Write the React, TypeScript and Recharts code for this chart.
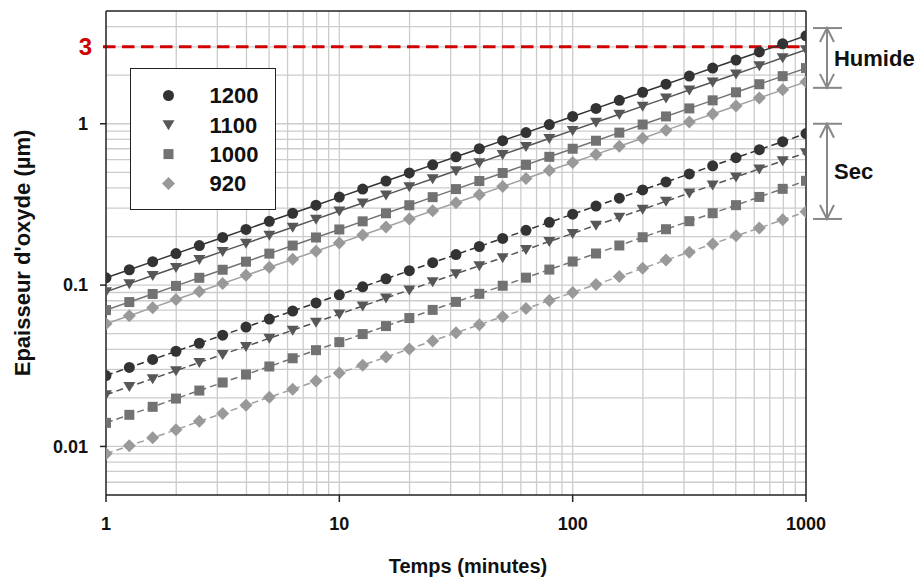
import React from 'react';
import { LineChart, Line, XAxis, YAxis, ReferenceLine, Legend } from 'recharts';

// oxidation time, minutes (markers every 0.1 decade)
const TIMES = [
  1, 1.259, 1.585, 1.995, 2.512, 3.162, 3.981, 5.012, 6.31, 7.943,
  10, 12.59, 15.85, 19.95, 25.12, 31.62, 39.81, 50.12, 63.1, 79.43,
  100, 125.9, 158.5, 199.5, 251.2, 316.2, 398.1, 501.2, 631, 794.3, 1000,
];

// wet oxidation (Humide), µm
const WET_1200 = [
  0.111, 0.1245, 0.1398, 0.1568, 0.1759, 0.1974, 0.2214, 0.2485, 0.2788, 0.3128,
  0.351, 0.3938, 0.4419, 0.4958, 0.5563, 0.6242, 0.7004, 0.7858, 0.8817, 0.9893,
  1.11, 1.245, 1.398, 1.568, 1.759, 1.974, 2.214, 2.485, 2.788, 3.128, 3.51,
];
const WET_1100 = [
  0.091, 0.1021, 0.1146, 0.1286, 0.1442, 0.1618, 0.1815, 0.2037, 0.2286, 0.2564,
  0.2877, 0.3229, 0.3623, 0.4065, 0.4561, 0.5117, 0.5742, 0.6442, 0.7228, 0.8111,
  0.91, 1.021, 1.146, 1.286, 1.442, 1.618, 1.815, 2.037, 2.286, 2.564, 2.877,
];
const WET_1000 = [
  0.07, 0.0785, 0.0881, 0.0989, 0.111, 0.1245, 0.1397, 0.1567, 0.1758, 0.1973,
  0.2213, 0.2484, 0.2787, 0.3127, 0.3508, 0.3936, 0.4417, 0.4955, 0.556, 0.6239,
  0.7, 0.785, 0.881, 0.989, 1.11, 1.245, 1.397, 1.567, 1.758, 1.973, 2.213,
];
const WET_920 = [
  0.0576, 0.0646, 0.0725, 0.0814, 0.0913, 0.1024, 0.1149, 0.129, 0.1447, 0.1623,
  0.1821, 0.2044, 0.2293, 0.2573, 0.2887, 0.3239, 0.3635, 0.4078, 0.4575, 0.5134,
  0.576, 0.646, 0.725, 0.814, 0.913, 1.024, 1.149, 1.29, 1.447, 1.623, 1.821,
];

// dry oxidation (Sec), µm
const DRY_1200 = [
  0.0275, 0.0309, 0.0346, 0.0389, 0.0436, 0.0489, 0.0549, 0.0616, 0.0691, 0.0775,
  0.087, 0.0976, 0.1095, 0.1228, 0.1378, 0.1546, 0.1735, 0.1947, 0.2184, 0.2451,
  0.275, 0.309, 0.346, 0.389, 0.436, 0.489, 0.549, 0.616, 0.691, 0.775, 0.87,
];
const DRY_1100 = [
  0.0209, 0.0235, 0.0263, 0.0295, 0.0331, 0.0372, 0.0417, 0.0468, 0.0525, 0.0589,
  0.0661, 0.0742, 0.0832, 0.0934, 0.1048, 0.1175, 0.1319, 0.148, 0.166, 0.1863,
  0.209, 0.235, 0.263, 0.295, 0.331, 0.372, 0.417, 0.468, 0.525, 0.589, 0.661,
];
const DRY_1000 = [
  0.014, 0.0157, 0.0176, 0.0198, 0.0222, 0.0249, 0.0279, 0.0313, 0.0352, 0.0395,
  0.0443, 0.0497, 0.0557, 0.0625, 0.0702, 0.0787, 0.0883, 0.0991, 0.1112, 0.1248,
  0.14, 0.157, 0.176, 0.198, 0.222, 0.249, 0.279, 0.313, 0.352, 0.395, 0.443,
];
const DRY_920 = [
  0.009, 0.0101, 0.0113, 0.0127, 0.0143, 0.016, 0.018, 0.0202, 0.0226, 0.0254,
  0.0285, 0.0319, 0.0358, 0.0402, 0.0451, 0.0506, 0.0568, 0.0637, 0.0715, 0.0802,
  0.09, 0.101, 0.113, 0.127, 0.143, 0.16, 0.18, 0.202, 0.226, 0.254, 0.285,
];

const TEMPERATURES = ['1200', '1100', '1000', '920'];
const X_TICKS = [1, 10, 100, 1000];
const Y_TICKS = [0.01, 0.1, 1, 3];
const GRID_X = [
  2, 3, 4, 5, 6, 7, 8, 9, 10, 20, 30, 40, 50, 60, 70, 80, 90,
  100, 200, 300, 400, 500, 600, 700, 800, 900,
];
const GRID_Y = [
  0.006, 0.007, 0.008, 0.009, 0.01, 0.02, 0.03, 0.04, 0.05, 0.06, 0.07, 0.08, 0.09,
  0.1, 0.2, 0.3, 0.4, 0.5, 0.6, 0.7, 0.8, 0.9, 1, 2, 3, 4,
];
const LIMIT = 3;
const HUMIDE_RANGE = [3.92, 1.67];
const SEC_RANGE = [1.0, 0.257];
const BRACKET_T = 1230;

const data = TIMES.map((t, i) => ({
  t,
  w1200: WET_1200[i],
  w1100: WET_1100[i],
  w1000: WET_1000[i],
  w920: WET_920[i],
  d1200: DRY_1200[i],
  d1100: DRY_1100[i],
  d1000: DRY_1000[i],
  d920: DRY_920[i],
}));

const FONT = '"Liberation Sans", Arial, sans-serif';

const STYLES: Record<string, { shape: string; fill: string; stroke: string }> = {
  '1200': { shape: 'circle', fill: '#333333', stroke: '#333333' },
  '1100': { shape: 'triangle', fill: '#575757', stroke: '#555555' },
  '1000': { shape: 'square', fill: '#727272', stroke: '#747474' },
  '920': { shape: 'diamond', fill: '#999999', stroke: '#a0a0a0' },
};

const SERIES = [
  { key: 'd920', temp: '920', dashed: true },
  { key: 'd1000', temp: '1000', dashed: true },
  { key: 'd1100', temp: '1100', dashed: true },
  { key: 'd1200', temp: '1200', dashed: true },
  { key: 'w920', temp: '920', dashed: false },
  { key: 'w1000', temp: '1000', dashed: false },
  { key: 'w1100', temp: '1100', dashed: false },
  { key: 'w1200', temp: '1200', dashed: false },
];

function Marker({ shape, cx, cy, fill }: { shape: string; cx: number; cy: number; fill: string }) {
  if (cx == null || cy == null) return null;
  switch (shape) {
    case 'circle':
      return <circle cx={cx} cy={cy} r={5.5} fill={fill} />;
    case 'triangle':
      return <polygon points={`${cx - 6},${cy - 4.5} ${cx + 6},${cy - 4.5} ${cx},${cy + 5.5}`} fill={fill} />;
    case 'square':
      return <rect x={cx - 5} y={cy - 5} width={10} height={10} fill={fill} />;
    default:
      return <polygon points={`${cx},${cy - 6.5} ${cx + 6.5},${cy} ${cx},${cy + 6.5} ${cx - 6.5},${cy}`} fill={fill} />;
  }
}

function YTick(props: any) {
  const { x, y, payload } = props;
  if (payload.value === LIMIT) {
    return (
      <text x={x + 4} y={y} dy="0.355em" textAnchor="end" fill="#d00000"
        fontSize={24} fontWeight="bold" fontFamily={FONT}>
        {payload.value}
      </text>
    );
  }
  return (
    <g>
      <line x1={x + 12} x2={x + 18} y1={y} y2={y} stroke="#222" strokeWidth={1.5} />
      <text x={x} y={y} dy="0.355em" textAnchor="end" fill="#111"
        fontSize={18} fontWeight="bold" fontFamily={FONT}>
        {payload.value}
      </text>
    </g>
  );
}

function Bracket(props: any, label: string) {
  const { x1, y1, y2 } = props;
  const g = '#888';
  return (
    <g>
      <line x1={x1 - 14} x2={x1 + 15} y1={y1} y2={y1} stroke={g} strokeWidth={2} />
      <line x1={x1 - 14} x2={x1 + 15} y1={y2} y2={y2} stroke={g} strokeWidth={2} />
      <line x1={x1} x2={x1} y1={y1} y2={y2} stroke={g} strokeWidth={2} />
      <polyline points={`${x1 - 7},${y1 + 14} ${x1},${y1} ${x1 + 7},${y1 + 14}`} fill="none" stroke={g} strokeWidth={2} />
      <polyline points={`${x1 - 7},${y2 - 14} ${x1},${y2} ${x1 + 7},${y2 - 14}`} fill="none" stroke={g} strokeWidth={2} />
      <text x={x1 + 7} y={(y1 + y2) / 2} dy="0.355em" fill="#111"
        fontSize={22} fontWeight="bold" fontFamily={FONT}>
        {label}
      </text>
    </g>
  );
}

function LegendBox() {
  return (
    <div style={{ width: 146, height: 142, boxSizing: 'border-box', border: '1.5px solid #222', background: '#fff' }}>
      <svg width={143} height={139} style={{ display: 'block' }}>
        {TEMPERATURES.map((temp, i) => (
          <g key={temp}>
            <Marker shape={STYLES[temp].shape} cx={37.5} cy={26.5 + i * 29.3} fill={STYLES[temp].fill} />
            <text x={78.5} y={26.5 + i * 29.3} dy="0.355em" fill="#111"
              fontSize={22} fontWeight="bold" fontFamily={FONT}>
              {temp}
            </text>
          </g>
        ))}
      </svg>
    </div>
  );
}

export default function App() {
  return (
    <div style={{ position: 'absolute', left: 0, top: 0, width: 920, height: 579, background: '#fff' }}>
      <LineChart width={920} height={579} data={data} margin={{ top: 11, right: 114, bottom: 0, left: 0 }}>
        <XAxis
          dataKey="t"
          type="number"
          scale="log"
          domain={[1, 1000]}
          ticks={X_TICKS}
          allowDataOverflow
          height={84}
          tickSize={7}
          tickMargin={15}
          tick={{ fill: '#111', fontSize: 18, fontWeight: 'bold', fontFamily: FONT }}
          tickLine={{ stroke: '#222', strokeWidth: 1.5 }}
          axisLine={{ stroke: '#222', strokeWidth: 1.5 }}
          label={{
            value: 'Temps (minutes)',
            position: 'insideBottom',
            offset: 6,
            dx: 12,
            fill: '#111',
            fontSize: 20,
            fontWeight: 'bold',
            fontFamily: FONT,
          }}
        />
        <YAxis
          type="number"
          scale="log"
          domain={[0.005, 5]}
          ticks={Y_TICKS}
          allowDataOverflow
          width={106}
          tickSize={6}
          tickMargin={12}
          tick={YTick}
          tickLine={false}
          axisLine={{ stroke: '#222', strokeWidth: 1.5 }}
          label={{
            value: "Epaisseur d'oxyde (µm)",
            angle: -90,
            position: 'insideLeft',
            offset: 22,
            fill: '#111',
            fontSize: 22,
            fontWeight: 'bold',
            fontFamily: FONT,
            style: { textAnchor: 'middle' },
          }}
        />
        {GRID_X.map((v) => (
          <ReferenceLine key={`gx${v}`} x={v} stroke="#cccccc" strokeWidth={1.3} />
        ))}
        {GRID_Y.map((v) => (
          <ReferenceLine key={`gy${v}`} y={v} stroke="#cccccc" strokeWidth={1.3} />
        ))}
        <ReferenceLine x={1000} stroke="#222" strokeWidth={1.5} />
        <ReferenceLine y={5} stroke="#222" strokeWidth={1.5} />
        <ReferenceLine
          segment={[{ x: 0.971, y: LIMIT }, { x: 1000, y: LIMIT }]}
          ifOverflow="visible"
          stroke="#d00000"
          strokeWidth={3}
          strokeDasharray="12.5 6.5"
        />
        {SERIES.map((s) => {
          const st = STYLES[s.temp];
          return (
            <Line
              key={s.key}
              dataKey={s.key}
              type="linear"
              stroke={st.stroke}
              strokeWidth={1.5}
              strokeDasharray={s.dashed ? '7 4' : undefined}
              dot={(p: any) => <Marker key={`${s.key}-${p.index}`} shape={st.shape} cx={p.cx} cy={p.cy} fill={st.fill} />}
              activeDot={false}
              isAnimationActive={false}
            />
          );
        })}
        <ReferenceLine
          segment={[{ x: BRACKET_T, y: HUMIDE_RANGE[0] }, { x: BRACKET_T, y: HUMIDE_RANGE[1] }]}
          ifOverflow="visible"
          shape={(p: any) => Bracket(p, 'Humide')}
        />
        <ReferenceLine
          segment={[{ x: BRACKET_T, y: SEC_RANGE[0] }, { x: BRACKET_T, y: SEC_RANGE[1] }]}
          ifOverflow="visible"
          shape={(p: any) => Bracket(p, 'Sec')}
        />
        <Legend
          layout="vertical"
          align="center"
          verticalAlign="middle"
          content={() => <LegendBox />}
          wrapperStyle={{ left: 130, top: 68, width: 146, height: 142 }}
        />
      </LineChart>
    </div>
  );
}
